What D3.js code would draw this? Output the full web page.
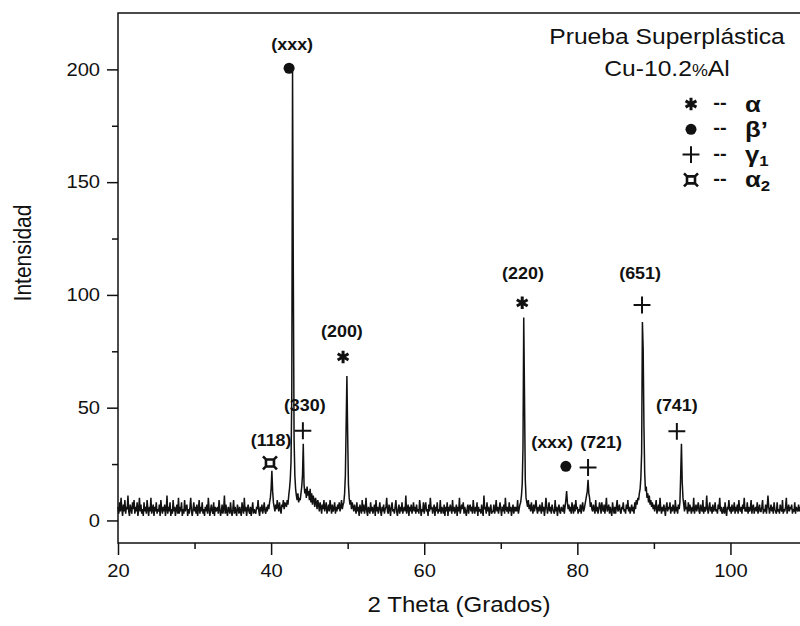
<!DOCTYPE html>
<html>
<head>
<meta charset="utf-8">
<title>Prueba Superplastica Cu-10.2%Al</title>
<script src="https://d3js.org/d3.v7.min.js"></script>
<style>
  body { margin: 0; background: #fff; }
  text { font-family: "Liberation Sans", Arial, sans-serif; fill: #111; }
</style>
</head>
<body>
<div id="chart"></div>
<script>
// XRD scan: 2 theta starts at 20.0 and goes up in 0.1 degree steps (one row = one degree)
var thetaStart = 20, thetaStep = 0.1;
var intensity = [
  6,3,8,4,10,5,2,7,4,9,      // 20
  3,6,5,11,4,2,7,5,3,8,
  5,9,3,6,4,8,2,5,10,4,
  7,3,5,2,8,4,6,3,9,5,
  2,6,4,10,3,5,7,2,6,4,
  8,3,5,4,7,2,9,5,3,6,       // 25
  4,7,2,5,11,3,6,4,8,2,
  5,3,9,4,6,2,5,7,3,10,
  3,6,4,8,2,5,3,9,4,6,
  7,2,5,3,6,10,4,2,5,8,
  4,6,3,7,2,5,9,3,6,4,       // 30
  8,3,5,2,6,4,7,3,10,5,
  2,5,7,4,3,8,2,6,4,5,
  6,3,9,5,2,4,7,3,5,11,
  3,7,4,2,6,5,3,8,4,2,
  5,9,3,6,4,2,7,5,3,6,       // 35
  4,2,8,5,3,10,4,6,2,5,
  7,4,3,6,2,5,8,3,5,4,
  3,6,5,9,4,2,6,4,7,3,
  5,8,4,3,6,4,7,5,8,10,
  14,22,13,8,6,4,7,5,9,6,    // 40
  4,8,5,3,7,6,9,5,8,7,
  6,9,7,11,14,18,26,55,199,110,
  36,20,14,11,9,12,8,10,9,12,
  15,20,34,16,12,14,10,15,11,13,
  9,14,8,12,7,11,9,6,10,8,   // 45
  5,9,7,4,8,6,3,7,5,9,
  4,6,8,3,5,7,4,9,6,3,
  7,4,5,8,3,6,4,7,5,8,
  4,6,9,5,7,8,12,20,42,64,
  38,16,10,7,9,5,8,6,4,7,    // 50
  5,3,8,4,6,2,7,5,3,9,
  4,7,3,5,10,4,2,6,5,3,
  8,4,6,3,5,7,2,9,4,6,
  3,5,8,4,2,6,4,7,3,5,
  6,10,4,3,7,5,2,6,8,4,      // 55
  5,3,6,9,4,2,5,7,3,6,
  4,8,3,5,6,4,11,3,5,7,
  2,6,4,7,3,5,8,4,6,3,
  7,4,5,3,9,6,2,5,4,8,
  3,6,8,4,5,2,7,4,10,5,      // 60
  6,3,5,7,2,6,4,8,3,5,
  4,9,3,6,5,3,7,2,6,4,
  8,2,6,4,7,5,3,9,4,6,
  3,5,7,2,6,4,10,3,5,7,
  5,8,3,6,4,2,5,7,3,6,       // 65
  7,4,6,3,9,5,3,6,4,8,
  2,6,4,5,3,7,4,2,11,5,
  6,3,8,4,6,2,5,7,3,4,
  4,7,3,5,9,4,6,3,5,8,
  5,2,6,4,7,3,10,5,4,6,      // 70
  3,8,4,6,2,5,7,3,6,4,
  6,4,9,3,5,7,8,11,16,32,
  90,55,18,10,8,6,9,5,7,4,
  8,5,3,7,4,6,9,5,3,6,
  4,7,5,3,8,4,6,2,5,10,      // 75
  6,3,5,8,4,6,3,7,5,4,
  3,9,4,6,2,5,7,4,3,6,
  5,4,7,3,6,9,13,8,5,7,
  4,6,3,8,5,3,7,4,9,5,
  6,3,5,4,7,3,6,8,4,5,       // 80
  7,9,11,13,18,12,10,6,8,5,
  4,7,5,3,9,4,6,3,5,8,
  6,3,8,5,4,7,3,6,10,4,
  5,7,3,6,4,2,8,5,3,6,
  3,6,9,4,5,7,4,3,6,5,       // 85
  8,4,5,3,7,5,9,4,6,3,
  5,7,4,6,3,8,5,9,7,10,
  9,12,14,19,30,88,76,42,21,13,
  15,10,12,8,11,7,9,6,8,5,
  7,4,6,9,3,5,7,4,10,5,      // 90
  3,6,4,7,5,2,6,8,4,6,
  5,8,3,6,4,7,5,3,9,4,
  6,3,7,5,8,20,34,17,10,7,
  4,9,5,6,3,8,4,7,5,3,
  6,4,10,3,5,7,4,6,8,4,      // 95
  3,7,5,4,9,3,6,4,5,11,
  5,3,6,8,4,6,3,7,4,5,
  8,4,5,3,7,5,10,4,6,3,
  4,6,3,8,4,2,6,5,9,4,
  6,3,7,4,5,8,3,6,4,7,       // 100
  3,9,5,4,6,3,7,5,10,4,
  5,4,8,3,6,4,5,9,3,6,
  7,3,5,6,4,8,3,5,7,4,
  4,6,9,3,5,4,7,3,6,11,
  6,3,5,7,4,6,3,8,5,4,       // 105
  3,8,4,5,3,7,5,4,9,3,
  5,4,6,10,3,5,7,4,6,5,
  7,3,5,4,8,3,6,5,4,7,
  4,6,3,7,5,9,4,6,3,5
];

var xTicks = [20, 40, 60, 80, 100];
var xMinor = [30, 50, 70, 90];
var yTicks = [0, 50, 100, 150, 200];
var yMinor = [25, 75, 125, 175];

// peak labels: where the text sits (lx, ly) and where the phase symbol sits (mx, my)
var peakLabels = ["(xxx)", "(118)", "(330)", "(200)", "(220)", "(651)", "(741)", "(xxx)", "(721)"];
var peakPhase  = ["beta", "alpha2", "gamma", "alpha", "alpha", "gamma", "gamma", "beta", "gamma"];
var labelTheta = [42.75, 40.0, 44.4, 49.25, 72.9, 88.2, 93.0, 76.7, 83.1];
var labelInt   = [211, 35.5, 51, 84, 109.5, 109.5, 51, 34.5, 34.5];
var markTheta  = [42.35, 39.85, 44.15, 49.4, 72.8, 88.45, 93.0, 78.5, 81.4];
var markInt    = [200.5, 25.5, 39.8, 72.5, 96.5, 95.5, 39.5, 24, 23.5];

var legendPhase = ["alpha", "beta", "gamma", "alpha2"];
var legendName  = ["α", "β’", "γ", "α"];
var legendSub   = ["", "", "1", "2"];

var W = 800, H = 626;
var SX = 1.12;   // text in the original is a bit wider than it is tall

var svg = d3.select("#chart").append("svg")
    .attr("width", W)
    .attr("height", H);

var x = d3.scaleLinear().domain([20, 110]).range([118, 807]);
var y = d3.scaleLinear().domain([-10, 225]).range([543, 13]);

// text helper with the horizontal stretch
function label(g, tx, ty, str, size, anchor, bold) {
  return g.append("text")
    .attr("transform", "translate(" + tx + "," + ty + ") scale(" + SX + ",1)")
    .attr("text-anchor", anchor || "middle")
    .attr("font-size", size)
    .attr("font-weight", bold ? "bold" : null)
    .text(str);
}

// axes (major + minor ticks)
svg.append("g").attr("transform", "translate(0," + y(-10) + ")")
  .call(d3.axisBottom(x).tickValues(xTicks).tickSize(12).tickPadding(9));
svg.append("g").attr("transform", "translate(0," + y(-10) + ")")
  .call(d3.axisBottom(x).tickValues(xMinor).tickSize(6).tickFormat(""));
svg.append("g").attr("transform", "translate(" + x(20) + ",0)")
  .call(d3.axisLeft(y).tickValues(yTicks).tickSize(11).tickPadding(5));
svg.append("g").attr("transform", "translate(" + x(20) + ",0)")
  .call(d3.axisLeft(y).tickValues(yMinor).tickSize(6).tickFormat(""));

svg.selectAll(".domain").remove();
svg.selectAll(".tick line").attr("stroke", "#111").attr("stroke-width", 1.5);
svg.selectAll(".tick text")
  .attr("font-family", "Liberation Sans, Arial, sans-serif")
  .attr("font-size", 18)
  .attr("fill", "#111")
  .attr("transform", "scale(" + SX + ",1)");

// frame
svg.append("rect")
  .attr("x", x(20)).attr("y", y(225))
  .attr("width", x(110) - x(20)).attr("height", y(-10) - y(225))
  .attr("fill", "none").attr("stroke", "#111").attr("stroke-width", 1.5);

// the scan
var line = d3.line()
  .x(function(d, i) { return x(thetaStart + i * thetaStep); })
  .y(function(d) { return y(d); });

svg.append("path")
  .datum(intensity)
  .attr("d", line)
  .attr("fill", "none")
  .attr("stroke", "#111")
  .attr("stroke-width", 1.5)
  .attr("stroke-linejoin", "miter");

// axis titles
label(svg, (x(20) + W) / 2, 612, "2 Theta (Grados)", 21.5);

svg.append("text")
  .attr("transform", "translate(31,253) rotate(-90) scale(1," + SX + ")")
  .attr("text-anchor", "middle")
  .attr("font-size", 21)
  .text("Intensidad");

// phase symbols
function marker(g, phase, cx, cy) {
  if (phase == "beta") {
    g.append("circle").attr("cx", cx).attr("cy", cy).attr("r", 5.5).attr("fill", "#111");
  } else if (phase == "alpha") {
    g.append("path")
      .attr("d", d3.symbol().type(d3.symbolAsterisk).size(110)())
      .attr("transform", "translate(" + cx + "," + cy + ")")
      .attr("stroke", "#111").attr("stroke-width", 3).attr("fill", "none");
  } else if (phase == "gamma") {
    g.append("path")
      .attr("d", d3.symbol().type(d3.symbolPlus).size(95)())
      .attr("transform", "translate(" + cx + "," + cy + ")")
      .attr("stroke", "#111").attr("stroke-width", 2).attr("fill", "none");
  } else {
    // ¤ : small ring with four corner spurs
    g.append("path")
      .attr("d", "M-4,-3.5h8v7h-8z M-4,-3.5l-3,-3 M4,-3.5l3,-3 M-4,3.5l-3,3 M4,3.5l3,3")
      .attr("transform", "translate(" + cx + "," + cy + ")")
      .attr("stroke", "#111").attr("stroke-width", 2.6).attr("fill", "none");
  }
}

var ann = svg.append("g");
peakLabels.forEach(function(lab, i) {
  label(ann, x(labelTheta[i]), y(labelInt[i]) + 5.5, lab, 16, "middle", true);
  marker(ann, peakPhase[i], x(markTheta[i]), y(markInt[i]));
});

// title and legend, top right
label(svg, 667, 44, "Prueba Superplástica", 22);
var t2 = label(svg, 667, 76, "Cu-10.2", 22);
t2.append("tspan").attr("font-size", 16).text("%");
t2.append("tspan").text("Al");

var leg = svg.append("g");
legendPhase.forEach(function(p, i) {
  var ry = 104 + i * 25.3;
  marker(leg, p, 691, ry);
  label(leg, 720, ry + 5, "--", 18, "middle", true);
  var t = label(leg, 745, ry + 7.5, legendName[i], 23, "start", true);
  if (legendSub[i]) {
    t.append("tspan")
      .attr("font-size", 15).attr("dy", 4)
      .text(legendSub[i]);
  }
});
</script>
</body>
</html>
